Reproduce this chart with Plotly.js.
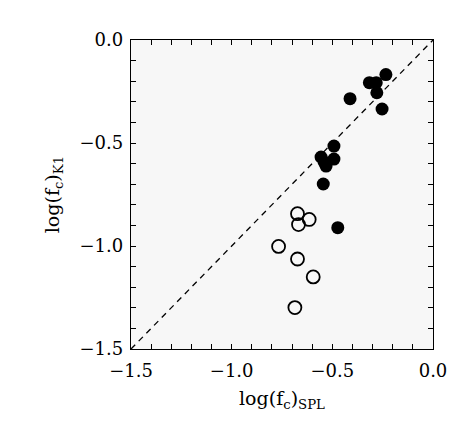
<!DOCTYPE html>
<html>
<head>
<meta charset="utf-8">
<script src="https://cdn.plot.ly/plotly-3.0.1.min.js"></script>
<style>html,body{margin:0;padding:0;background:#fff;}#chart{width:472px;height:432px;}</style>
</head>
<body>
<div id="chart"></div>
<script>
// Filled points
const filledX = [-0.234, -0.316, -0.282, -0.279, -0.412, -0.253, -0.492, -0.492, -0.556, -0.541, -0.531, -0.545, -0.473];
const filledY = [-0.168, -0.207, -0.207, -0.256, -0.285, -0.335, -0.515, -0.578, -0.568, -0.592, -0.612, -0.699, -0.911];
// Open points
const openX = [-0.673, -0.615, -0.668, -0.767, -0.673, -0.595, -0.686];
const openY = [-0.843, -0.871, -0.896, -1.002, -1.063, -1.150, -1.299];
// One-to-one line
const lineX = [-1.5, 0.0];
const lineY = [-1.5, 0.0];
const tickVals = [-1.5, -1.0, -0.5, 0.0];

const font = {family: '"DejaVu Serif", "Liberation Serif", serif', color: '#000'};

const traces = [
  {x: lineX, y: lineY, mode: 'lines', line: {color: '#000', width: 1.3, dash: '6px,5px'}, hoverinfo: 'skip'},
  {x: filledX, y: filledY, mode: 'markers', marker: {size: 13, color: '#000', line: {width: 0}}},
  {x: openX, y: openY, mode: 'markers', marker: {size: 13, color: 'rgba(0,0,0,0)', line: {width: 1.8, color: '#000'}}}
];

const axisCommon = {
  range: [-1.5, 0.0],
  tickvals: tickVals,
  tickformat: '.1f',
  ticks: 'inside',
  ticklen: 5,
  tickwidth: 1,
  tickcolor: '#000',
  showline: true,
  linecolor: '#000',
  linewidth: 1.2,
  mirror: 'ticks',
  showgrid: false,
  zeroline: false,
  minor: {dtick: 0.1, ticks: 'inside', ticklen: 5, tickcolor: '#000', tickwidth: 1, showgrid: false},
  tickfont: Object.assign({size: 18}, font)
};

const layout = {
  width: 472, height: 432,
  margin: {l: 131, r: 39, t: 40, b: 83},
  paper_bgcolor: '#fff',
  plot_bgcolor: '#f7f7f7',
  showlegend: false,
  font: font,
  xaxis: Object.assign({}, axisCommon, {
    ticklabelstandoff: 5,
    title: {text: 'log(f<sub>c</sub>)<sub>SPL</sub>', font: Object.assign({size: 19}, font), standoff: 12}
  }),
  yaxis: Object.assign({}, axisCommon, {
    ticklabelstandoff: 3,
    title: {text: 'log(f<sub>c</sub>)<sub>K1</sub>', font: Object.assign({size: 19}, font), standoff: 14}
  })
};

Plotly.newPlot('chart', traces, layout, {displayModeBar: false, staticPlot: true});
</script>
</body>
</html>
